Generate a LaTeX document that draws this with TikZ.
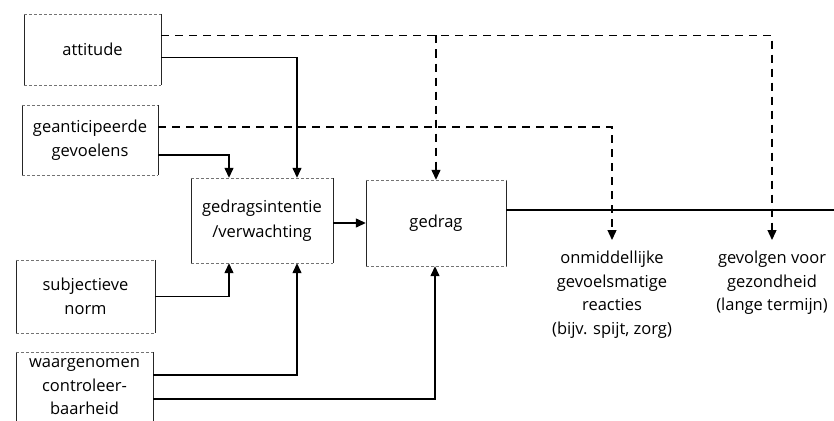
\documentclass[tikz,border=0pt]{standalone}
\usepackage{fontspec}
\setmainfont{Open Sans}
\usetikzlibrary{arrows.meta}
\begin{document}
\begin{tikzpicture}[x=1pt,y=-1pt,
  box/.style={draw=none, align=center, inner sep=0pt,
    font=\fontsize{16.5}{24.5}\selectfont},
  side/.style={draw=black!85, line width=0.6pt},
  edge/.style={draw=black!55, line width=0.5pt, dash pattern=on 3pt off 2pt},
  lbl/.style={align=center, inner sep=0pt, font=\fontsize{16.5}{23.5}\selectfont},
  sol/.style={line width=1.3pt, -{Triangle[width=9pt,length=10pt]}},
  dsh/.style={line width=1.3pt, dash pattern=on 8pt off 6pt, -{Triangle[width=9pt,length=10pt]}},
  plain/.style={line width=1.3pt}]
\useasboundingbox (0,0) rectangle (834,420);
% boxes
\node[box, minimum width=137pt, minimum height=71pt] (att) at (92.5,49.5) {attitude};
\node[box, minimum width=136pt, minimum height=70pt] (gean) at (90,140) {geanticipeerde\\gevoelens};
\node[box, minimum width=139pt, minimum height=73pt] (subj) at (85.5,296.5) {subjectieve\\norm};
\node[box, minimum width=137pt, minimum height=78pt] (waar) at (84.5,391) {};
\node[lbl] (waart) at (84.5,387) {waargenomen\\controleer-\\baarheid};
\node[box, minimum width=142pt, minimum height=85pt] (gi) at (262,220.5) {gedragsintentie\\/verwachting};
\node[box, minimum width=140pt, minimum height=86pt] (ged) at (436,223) {gedrag};
\foreach \n in {att,gean,subj,waar,gi,ged}{
  \draw[side] (\n.north west) -- (\n.south west);
  \draw[side] (\n.north east) -- (\n.south east);
  \draw[edge] (\n.north west) -- (\n.north east);
  \draw[edge] (\n.south west) -- (\n.south east);
}
% outcome labels
\node[lbl, anchor=north] (r1) at (612,251) {onmiddellijke\\gevoelsmatige\\reacties\\(bijv. spijt, zorg)};
\node[lbl, anchor=north] (r2) at (772,251) {gevolgen voor\\gezondheid\\(lange termijn)};
\coordinate (t1) at ([yshift=11pt]r1.north);
\coordinate (t2) at ([yshift=11pt]r2.north);
\coordinate (lineend) at (834,210);
\coordinate (a1) at ([yshift=14pt]att.east);
% behaviour line
\draw[plain] ([yshift=13pt]ged.east) -- (lineend);
% dashed connectors
\draw[dsh] (a1) -| (t2);
\draw[dsh] (ged.north |- a1) -- (ged.north);
\draw[dsh] ([yshift=13pt]gean.east) -| (t1);
% solid connectors
\draw[sol] ([yshift=-8pt]att.east) -| ([xshift=35pt]gi.north);
\draw[sol] ([yshift=-15pt]gean.east) -| ([xshift=-33pt]gi.north);
\draw[sol] (subj.east) -| ([xshift=-33pt]gi.south);
\draw[sol] ([yshift=16pt]waar.east) -| ([xshift=35pt]gi.south);
\draw[sol] ([yshift=-8pt]waar.east) -| ([xshift=-1pt]ged.south);
\draw[sol] ([yshift=-2.5pt]gi.east) -- (ged.west);
\end{tikzpicture}
\end{document}
